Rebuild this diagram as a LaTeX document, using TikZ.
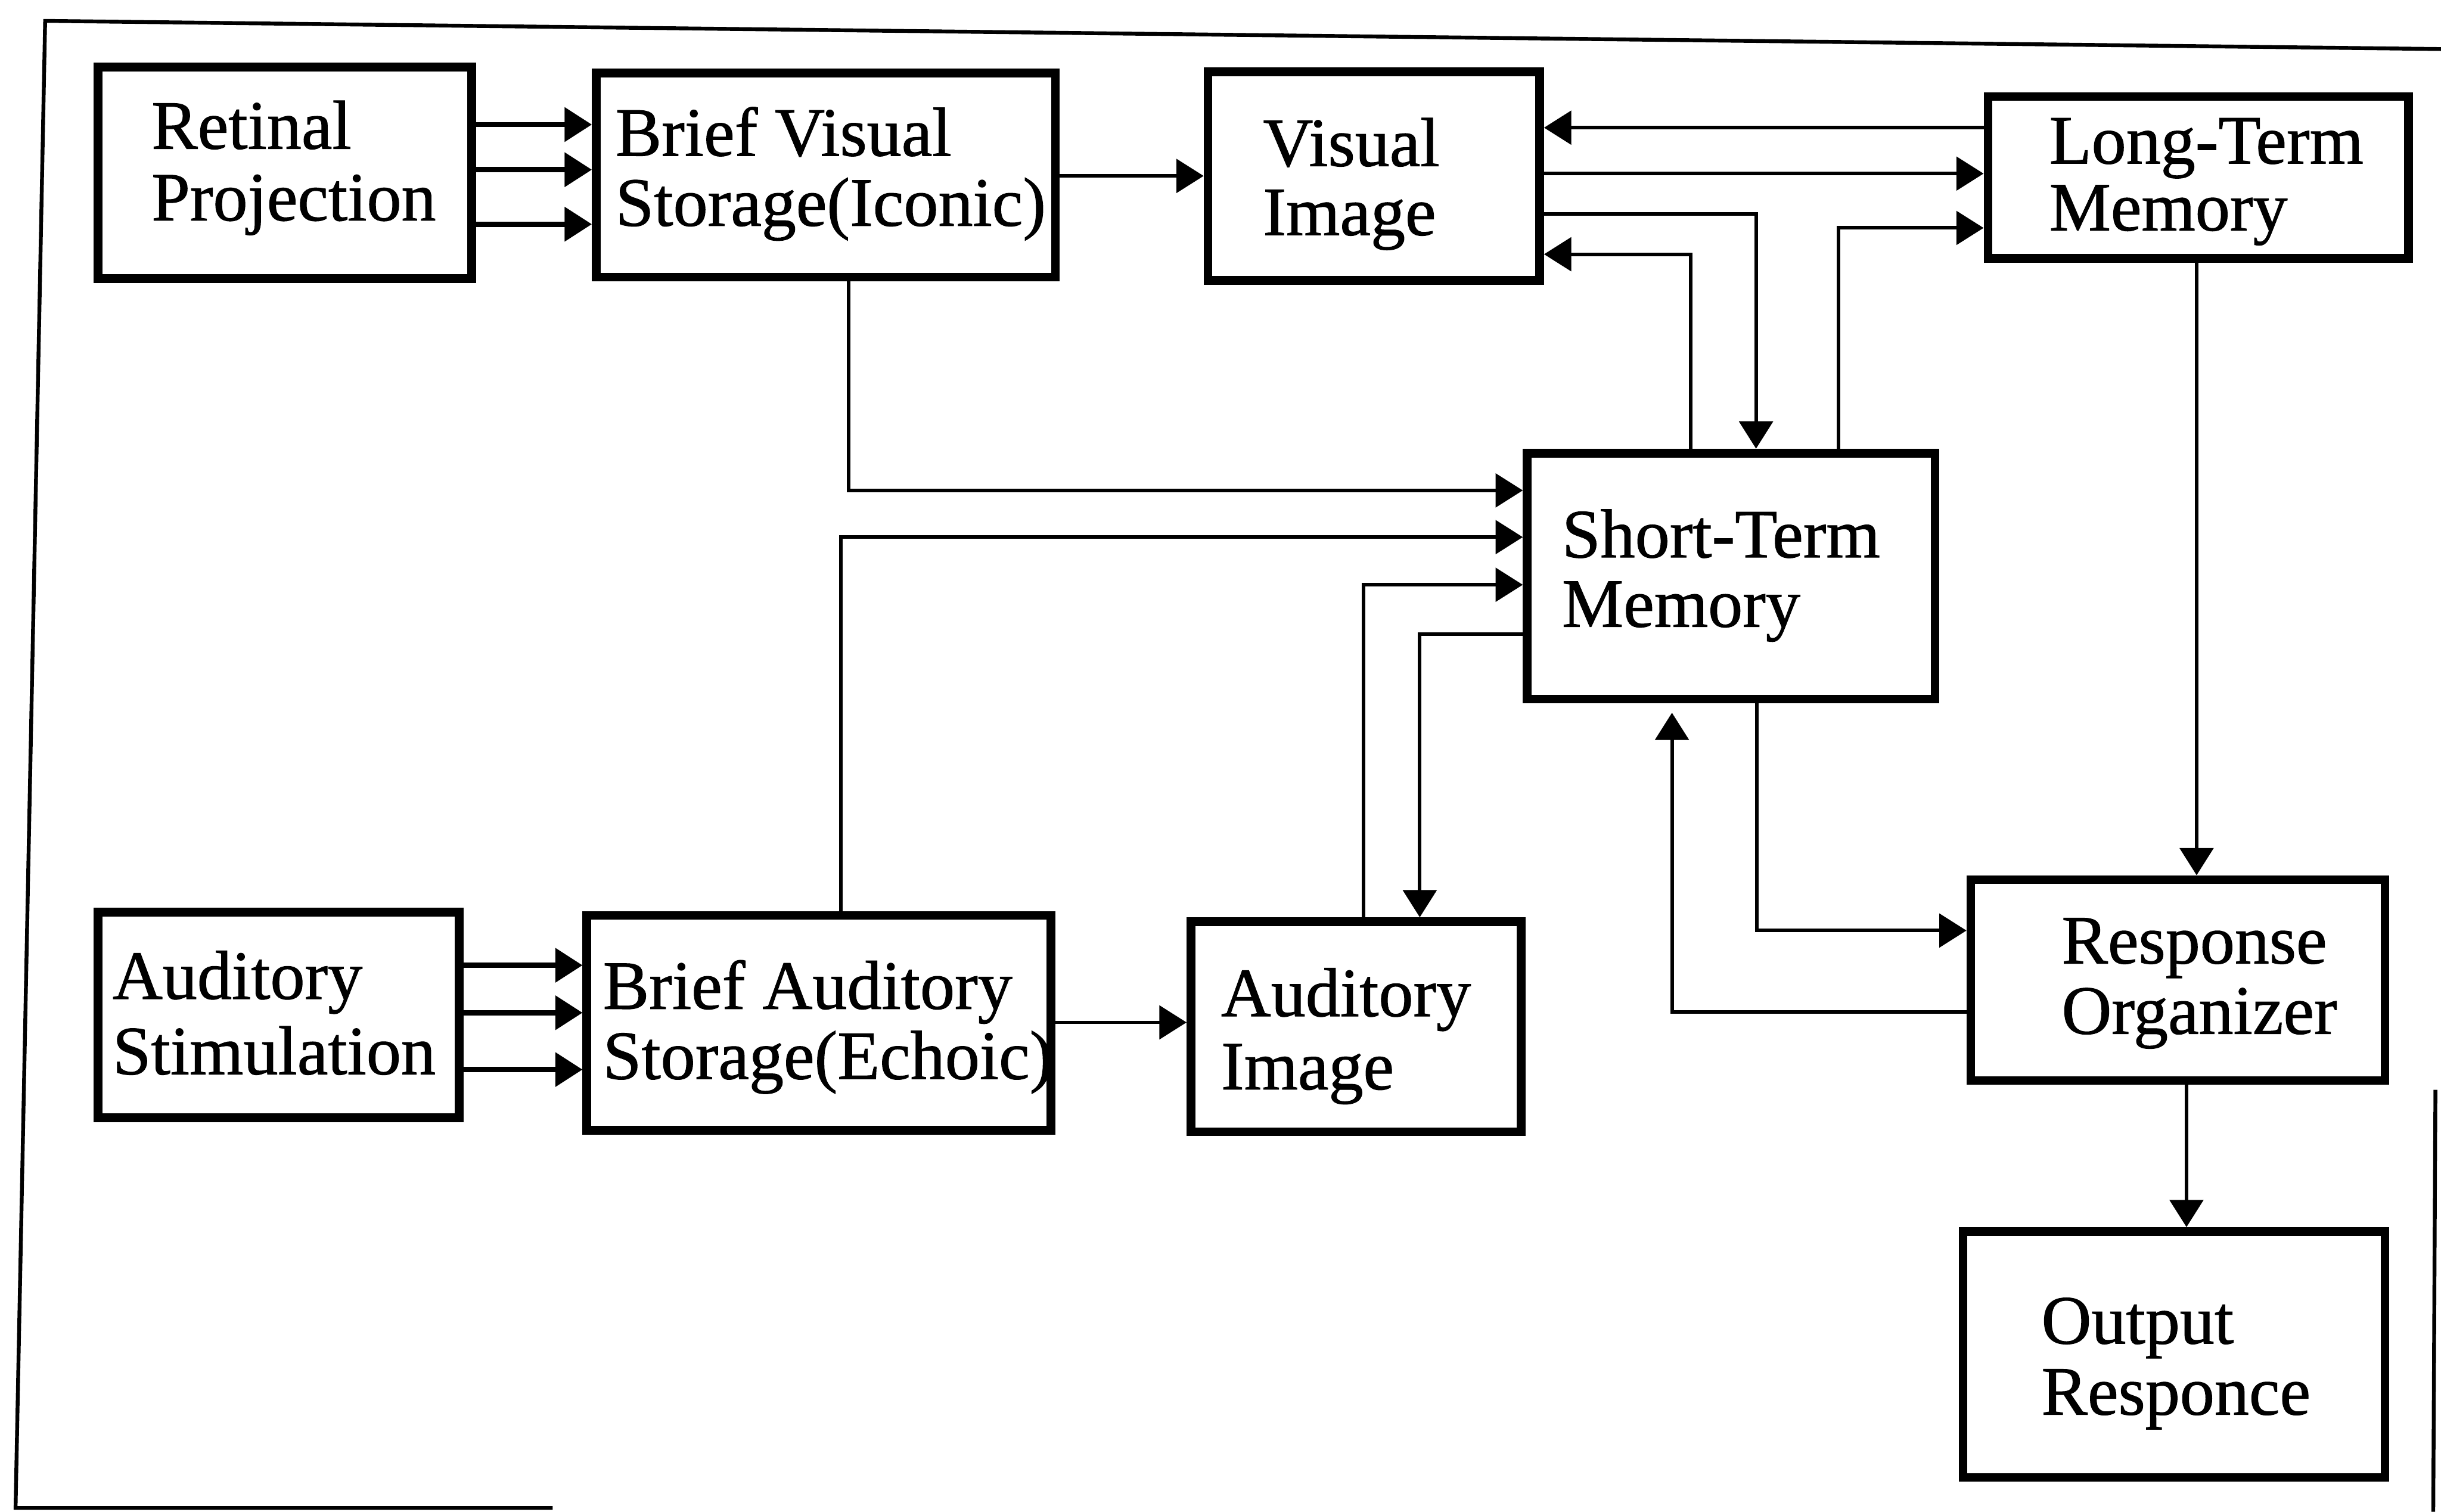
\documentclass[tikz,border=0pt]{standalone}
\usepackage{fontspec}
\setmainfont{Liberation Serif}
\newfontfamily\heavyserif{Liberation Serif}[FakeBold=0.9]
\usetikzlibrary{arrows.meta,fit}
\begin{document}
\begin{tikzpicture}[x=0.02cm,y=-0.02cm,
  box/.style={draw, line width=3.2pt, inner sep=0pt},
  lbl/.style={font=\heavyserif\fontsize{25.3pt}{30pt}\selectfont, inner sep=0pt, anchor=base west},
  conn/.style={line width=1.3pt, -{Triangle[length=0.35cm,width=0.43cm]}},
  conns/.style={conn, line width=1.9pt},
  framel/.style={line width=1.4pt}]
\useasboundingbox (0,0) rectangle (1568,971);

% frame (scanned border)
\draw[framel] (1568,31.5) -- (29,13.4) -- (10,968.6) -- (355,968.6);
\draw[framel] (1564.4,700) -- (1563,971);

% boxes
\node[box, fit={(63,43) (303,179)}] (rp) {};
\node[box, fit={(383,47) (678,178)}] (bvs) {};
\node[box, fit={(776,46) (989,180)}] (vi) {};
\node[box, fit={(1277,62) (1547,166)}] (ltm) {};
\node[box, fit={(981,291) (1243,449)}] (stm) {};
\node[box, fit={(63,586) (295,718)}] (as) {};
\node[box, fit={(377,588) (675,726)}] (bas) {};
\node[box, fit={(765,592) (977,727)}] (ai) {};
\node[box, fit={(1266,565) (1532,694)}] (ro) {};
\node[box, fit={(1261,791) (1532,949)}] (or) {};

% labels
\node[lbl] (rp1) at (97,95.5) {Retinal};
\node[lbl] (rp2) at (97,141.6) {Projection};
\node[lbl] (bvs1) at (395,100) {Brief Visual};
\node[lbl] (bvs2) at (395,145) {Storage(Iconic)};
\node[lbl] (vi1) at (811,106.6) {Visual};
\node[lbl] (vi2) at (811,151) {Image};
\node[lbl] (ltm1) at (1316,105) {Long-Term};
\node[lbl] (ltm2) at (1316,148) {Memory};
\node[lbl] (stm1) at (1003,358) {Short-Term};
\node[lbl] (stm2) at (1003,402.6) {Memory};
\node[lbl] (as1) at (72,641.6) {Auditory};
\node[lbl] (as2) at (72,690) {Stimulation};
\node[lbl] (bas1) at (387,648) {Brief Auditory};
\node[lbl] (bas2) at (387,693) {Storage(Echoic)};
\node[lbl] (ai1) at (784,652.7) {Auditory};
\node[lbl] (ai2) at (784,699.7) {Image};
\node[lbl] (ro1) at (1324,618.8) {Response};
\node[lbl] (ro2) at (1324,664) {Organizer};
\node[lbl] (or1) at (1311,863) {Output};
\node[lbl] (or2) at (1311,908.6) {Responce};

% connectors
\draw[conns] (rp.east |- 0,80) -- (bvs.west |- 0,80);
\draw[conns] (rp.east |- 0,109) -- (bvs.west |- 0,109);
\draw[conns] (rp.east |- 0,144) -- (bvs.west |- 0,144);
\draw[conn] (bvs.east |- 0,113) -- (vi.west |- 0,113);
\draw[conn] (ltm.west |- 0,82) -- (vi.east |- 0,82);
\draw[conn] (vi.east |- 0,111.5) -- (ltm.west |- 0,111.5);
\draw[conn] (vi.east |- 0,137.5) -| (stm.north -| 1128,0);
\draw[conn] (stm.north -| 1086,0) |- (vi.east |- 0,163.3);
\draw[conn] (stm.north -| 1181,0) |- (ltm.west |- 0,146.4);
\draw[conn] (bvs.south -| 545,0) |- (stm.west |- 0,315);
\draw[conn] (bas.north -| 540,0) |- (stm.west |- 0,345);
\draw[conn] (ai.north -| 876,0) |- (stm.west |- 0,375.6);
\draw[conn] (stm.west |- 0,407.4) -| (ai.north -| 912,0);
\draw[conn] (ltm.south -| 1411,0) -- (ro.north -| 1411,0);
\draw[conn] (stm.south -| 1128.5,0) |- (ro.west |- 0,597.7);
\draw[conn, shorten >=0.12cm] (ro.west |- 0,650) -| (stm.south -| 1074,0);
\draw[conn] (ro.south -| 1404.5,0) -- (or.north -| 1404.5,0);
\draw[conns] (as.east |- 0,620) -- (bas.west |- 0,620);
\draw[conns] (as.east |- 0,650.5) -- (bas.west |- 0,650.5);
\draw[conns] (as.east |- 0,687) -- (bas.west |- 0,687);
\draw[conn] (bas.east |- 0,656.7) -- (ai.west |- 0,656.7);
\end{tikzpicture}
\end{document}
